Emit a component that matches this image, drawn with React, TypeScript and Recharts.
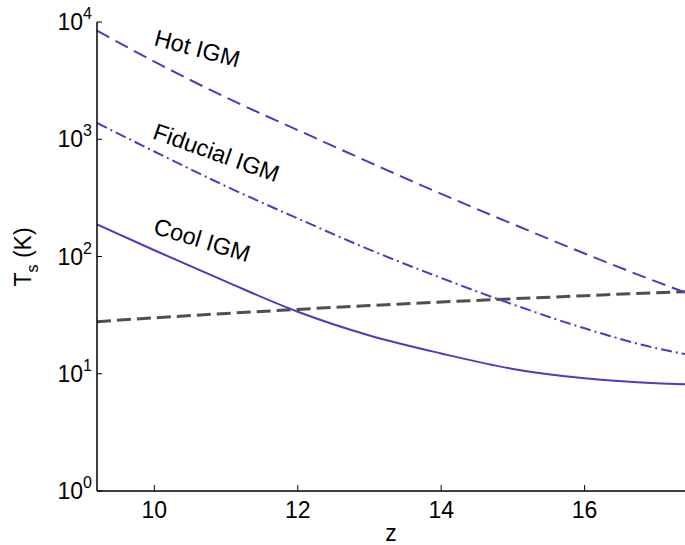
import { LineChart, Line, XAxis, YAxis, ReferenceDot } from 'recharts';

// redshift samples and spin temperatures (K)
const zValues = [9.2, 10, 11, 12, 13, 14, 15, 16, 17, 17.4];
const hotIGM = [8430, 4596, 2271, 1197, 635, 342, 189, 106, 61, 49.5];
const fiducialIGM = [1376, 786, 397, 211, 114.5, 65.6, 39, 24.4, 16.5, 14.7];
const coolIGM = [187.5, 113, 61, 33.8, 21.2, 14.9, 11, 9.15, 8.3, 8.14];
const cmbTemp = [27.8, 30.0, 32.7, 35.4, 38.2, 40.9, 43.6, 46.3, 49.1, 50.1];

const xTicks = [10, 12, 14, 16];
const yTicks = [1, 10, 100, 1000, 10000];

// curve annotations: text, anchor (z, T) at baseline start, rotation in degrees
const annotations = [
  { text: 'Hot IGM', z: 9.98, t: 6370, rot: 15 },
  { text: 'Fiducial IGM', z: 9.96, t: 1020, rot: 19.5 },
  { text: 'Cool IGM', z: 9.97, t: 158, rot: 17 },
];

const FONT = '"Liberation Sans", Arial, Helvetica, sans-serif';
const BLUE = '#4a3bc2';
const GREY = '#4f4f4f';

const chartData = zValues.map((z, i) => ({
  z,
  hot: hotIGM[i],
  fiducial: fiducialIGM[i],
  cool: coolIGM[i],
  cmb: cmbTemp[i],
}));

const BottomTick = ({ x, y, payload }: any) => (
  <g>
    <line x1={x} x2={x} y1={y} y2={y - 6} stroke="#000" strokeWidth={1} />
    <text x={x} y={y + 27} textAnchor="middle" fontSize={23} fill="#000">
      {payload.value}
    </text>
  </g>
);

const TopTick = ({ x, y }: any) => (
  <line x1={x} x2={x} y1={y} y2={y + 6} stroke="#000" strokeWidth={1} />
);

const LeftTick = ({ x, y, payload }: any) => {
  const exp = Math.round(Math.log10(payload.value));
  return (
    <g>
      <line x1={x} x2={x + 5} y1={y} y2={y} stroke="#000" strokeWidth={1} />
      <text x={x - 5} y={y + 8} textAnchor="end" fontSize={23} fill="#000">
        10
        <tspan dy={-11} fontSize={16}>
          {exp}
        </tspan>
      </text>
    </g>
  );
};

const YLabel = () => (
  <text transform="translate(31,257) rotate(-90)" textAnchor="middle" fontSize={23} fill="#000">
    T
    <tspan dy={7} fontSize={16}>
      s
    </tspan>
    <tspan dy={-7}> (K)</tspan>
  </text>
);

const CurveLabel = ({ viewBox, text, rot }: any) => (
  <text
    transform={`translate(${viewBox.x},${viewBox.y}) rotate(${rot})`}
    fontSize={23.5}
    fill="#000"
  >
    {text}
  </text>
);

const App = () => {
  return (
    <div style={{ position: 'absolute', left: 0, top: 0, width: 685, height: 545, fontFamily: FONT, background: '#fff' }}>
      <LineChart
        width={685}
        height={545}
        data={chartData}
        margin={{ top: 22, right: 0, left: 0, bottom: 0 }}
      >
        <XAxis
          dataKey="z"
          type="number"
          domain={[9.2, 17.4]}
          ticks={xTicks}
          interval={0}
          allowDataOverflow
          height={54}
          tickSize={0}
          tickMargin={0}
          tickLine={false}
          tick={<BottomTick />}
          axisLine={{ stroke: '#000', strokeWidth: 1.5 }}
          label={{ value: 'z', position: 'insideBottom', offset: 4, fontSize: 23, fill: '#000' }}
        />
        <XAxis
          xAxisId="top"
          orientation="top"
          dataKey="z"
          type="number"
          domain={[9.2, 17.4]}
          ticks={xTicks}
          interval={0}
          allowDataOverflow
          height={0}
          tickSize={0}
          tickMargin={0}
          tickLine={false}
          tick={<TopTick />}
          axisLine={{ stroke: '#000', strokeWidth: 1.5 }}
        />
        <YAxis
          scale="log"
          type="number"
          domain={[1, 10000]}
          ticks={yTicks}
          interval={0}
          allowDataOverflow
          width={97}
          tickSize={0}
          tickMargin={0}
          tickLine={false}
          tick={<LeftTick />}
          axisLine={{ stroke: '#000', strokeWidth: 1.5 }}
          label={<YLabel />}
        />

        <Line
          type="monotone"
          dataKey="cmb"
          stroke={GREY}
          strokeWidth={3}
          strokeDasharray="14 6"
          dot={false}
          isAnimationActive={false}
        />
        <Line
          type="monotone"
          dataKey="hot"
          stroke={BLUE}
          strokeWidth={2}
          strokeDasharray="14 7"
          dot={false}
          isAnimationActive={false}
        />
        <Line
          type="monotone"
          dataKey="fiducial"
          stroke={BLUE}
          strokeWidth={2}
          strokeDasharray="11 4 2 4"
          dot={false}
          isAnimationActive={false}
        />
        <Line
          type="monotone"
          dataKey="cool"
          stroke={BLUE}
          strokeWidth={2}
          dot={false}
          isAnimationActive={false}
        />

        {annotations.map((a) => (
          <ReferenceDot
            key={a.text}
            x={a.z}
            y={a.t}
            r={0}
            fill="none"
            stroke="none"
            label={<CurveLabel text={a.text} rot={a.rot} />}
          />
        ))}
      </LineChart>
    </div>
  );
};

export default App;
